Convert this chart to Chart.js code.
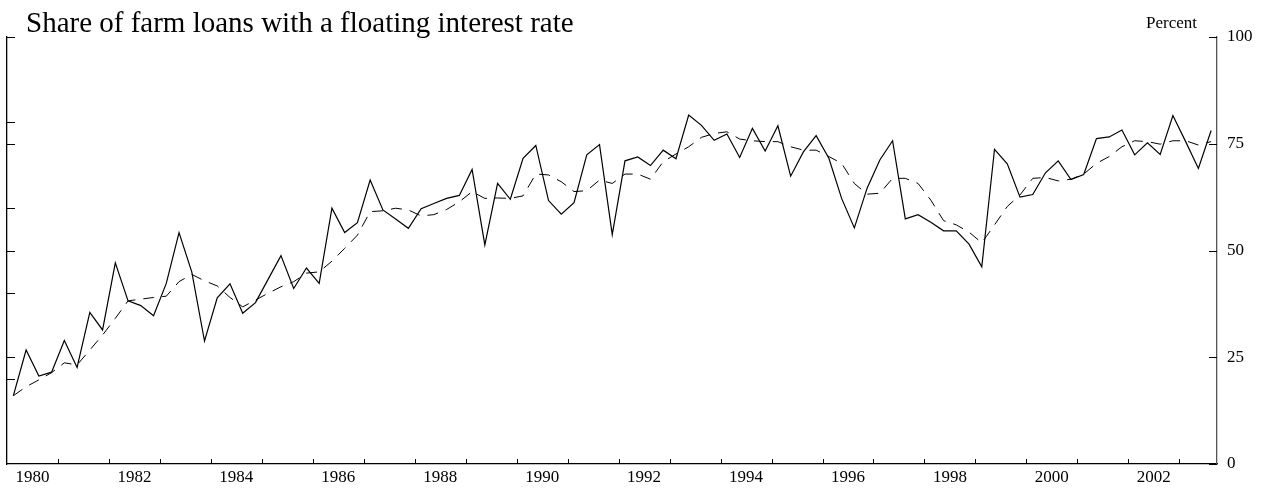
<!DOCTYPE html>
<html>
<head>
<meta charset="utf-8">
<script src="https://cdn.jsdelivr.net/npm/chart.js@4/dist/chart.umd.min.js"></script>
<style>
  html, body { margin: 0; padding: 0; background: #fff; }
  .chart-container { position: relative; width: 1270px; height: 489px; }
</style>
</head>
<body>
<div class="chart-container"><canvas id="chart"></canvas></div>
<script>
// Quarterly, 1980:Q1 - 2003:Q3
const FIRST_YEAR = 1980;

const floatingShare = [
    16.0, 26.7, 20.6, 21.5, 28.9, 22.6, 35.5, 31.4, 47.1, 38.2, 37.1, 34.7,
    42.3, 54.2, 45.0, 28.8, 38.9, 42.2, 35.3, 37.8, 43.3, 48.8, 41.1, 45.9,
    42.3, 59.9, 54.2, 56.5, 66.5, 59.5, 57.4, 55.2, 59.8, 61.0, 62.2, 62.9,
    69.0, 51.3, 65.7, 62.0, 71.6, 74.6, 61.7, 58.5, 61.2, 72.4, 74.8, 53.7,
    71.0, 71.9, 69.9, 73.5, 71.5, 81.7, 79.3, 75.8, 77.3, 71.8, 78.6, 73.3,
    79.2, 67.4, 73.1, 76.9, 71.6, 62.2, 55.3, 64.6, 71.2, 75.7, 57.4, 58.4,
    56.6, 54.6, 54.6, 51.5, 46.2, 73.7, 70.3, 62.5, 63.1, 68.2, 71.0, 66.6,
    67.8, 76.2, 76.6, 78.2, 72.4, 75.2, 72.5, 81.6, 75.5, 69.2, 78.1
];

const smoothedShare = [
    16.0, 18.1, 19.7, 21.4, 23.7, 23.2, 26.7, 30.2, 34.1, 38.2, 38.6, 39.0,
    39.3, 42.7, 44.4, 42.9, 41.7, 39.0, 36.8, 38.4, 40.0, 41.5, 42.7, 44.7,
    45.0, 47.5, 50.5, 53.6, 59.1, 59.3, 59.9, 59.5, 58.1, 58.4, 59.6, 61.4,
    63.8, 62.2, 62.3, 62.2, 62.8, 67.9, 67.7, 66.1, 63.8, 64.0, 66.5, 65.7,
    67.9, 67.9, 66.7, 70.8, 72.6, 74.3, 76.5, 77.4, 77.8, 76.1, 75.7, 75.5,
    75.5, 74.3, 73.5, 73.5, 72.0, 70.4, 65.7, 63.2, 63.4, 66.9, 66.9, 65.7,
    61.8, 57.0, 56.0, 54.3, 51.8, 56.0, 60.3, 63.0, 66.9, 67.1, 66.3, 66.7,
    67.9, 70.4, 72.0, 74.3, 75.7, 75.5, 74.9, 75.7, 75.7, 74.7, 75.5
];

const yearLabels = [1980, 1982, 1984, 1986, 1988, 1990, 1992, 1994, 1996, 1998, 2000, 2002];
const yearTickMarks = [];
for (let y = 1981; y <= 2003; y++) yearTickMarks.push(y);
const rightTicks = [0, 25, 50, 75, 100];
const leftTickMarks = [20, 25, 40, 50, 60, 75, 80, 100];

// x position of each quarter = middle of the quarter
const quarterPos = floatingShare.map((_, i) => FIRST_YEAR + (i + 0.5) / 4);

const SERIF = '"Liberation Serif", "Times New Roman", serif';

const frame = {
    id: 'frame',
    afterDraw(chart) {
        const { ctx, chartArea: a, scales } = chart;
        ctx.save();
        ctx.strokeStyle = '#000';
        ctx.lineWidth = 1;
        ctx.beginPath();
        yearTickMarks.forEach(y => {
            const px = Math.round(scales.x.getPixelForValue(y)) + 0.5;
            ctx.moveTo(px, a.bottom);
            ctx.lineTo(px, a.bottom - 5);
        });
        leftTickMarks.forEach(v => {
            const py = Math.round(scales.y.getPixelForValue(v)) + 0.5;
            ctx.moveTo(a.left, py);
            ctx.lineTo(a.left + 8, py);
        });
        rightTicks.forEach(v => {
            const py = Math.round(scales.y2.getPixelForValue(v)) + 0.5;
            ctx.moveTo(a.right, py);
            ctx.lineTo(a.right - 8, py);
        });
        ctx.stroke();

        ctx.fillStyle = '#000';
        ctx.textBaseline = 'alphabetic';
        ctx.font = '29px ' + SERIF;
        ctx.textAlign = 'left';
        ctx.fillText('Share of farm loans with a floating interest rate', 26, 32);
        ctx.font = '17px ' + SERIF;
        ctx.textAlign = 'right';
        ctx.fillText('Percent', 1197, 28);
        ctx.restore();
    }
};

new Chart(document.getElementById('chart'), {
    type: 'line',
    data: {
        datasets: [
            {
                data: floatingShare.map((v, i) => ({ x: quarterPos[i], y: v })),
                borderColor: '#000',
                borderWidth: 1.2,
                pointRadius: 0,
                tension: 0,
                yAxisID: 'y'
            },
            {
                data: smoothedShare.map((v, i) => ({ x: quarterPos[i], y: v })),
                borderColor: '#000',
                borderWidth: 1,
                borderDash: [11, 8],
                pointRadius: 0,
                tension: 0,
                yAxisID: 'y'
            }
        ]
    },
    options: {
        responsive: true,
        maintainAspectRatio: false,
        animation: false,
        layout: { padding: { top: 37, left: 0, right: 0, bottom: 0 } },
        plugins: { legend: { display: false }, tooltip: { enabled: false } },
        scales: {
            x: {
                type: 'linear',
                position: 'bottom',
                min: 1980,
                max: 2003.74,
                grid: { display: false, drawTicks: false },
                border: { display: true, color: '#000', width: 1.3 },
                afterBuildTicks: scale => {
                    scale.ticks = yearLabels.map(y => ({ value: y + 0.5 }));
                },
                afterFit: scale => { scale.height = 25; },
                ticks: {
                    autoSkip: false,
                    maxRotation: 0,
                    padding: 3,
                    color: '#000',
                    font: { family: SERIF, size: 17 },
                    callback: v => String(Math.round(v - 0.5))
                }
            },
            y: {
                position: 'left',
                min: 0,
                max: 100,
                grid: { display: false, drawTicks: false },
                border: { display: true, color: '#000', width: 1.3 },
                ticks: { display: false },
                afterFit: scale => { scale.width = 7; }
            },
            y2: {
                position: 'right',
                min: 0,
                max: 100,
                grid: { display: false, drawTicks: false },
                border: { display: true, color: '#555', width: 1.3 },
                afterBuildTicks: scale => {
                    scale.ticks = rightTicks.map(v => ({ value: v }));
                },
                afterFit: scale => { scale.width = 53; },
                ticks: {
                    padding: 10,
                    color: '#000',
                    font: { family: SERIF, size: 17 }
                }
            }
        }
    },
    plugins: [frame]
});
</script>
</body>
</html>
